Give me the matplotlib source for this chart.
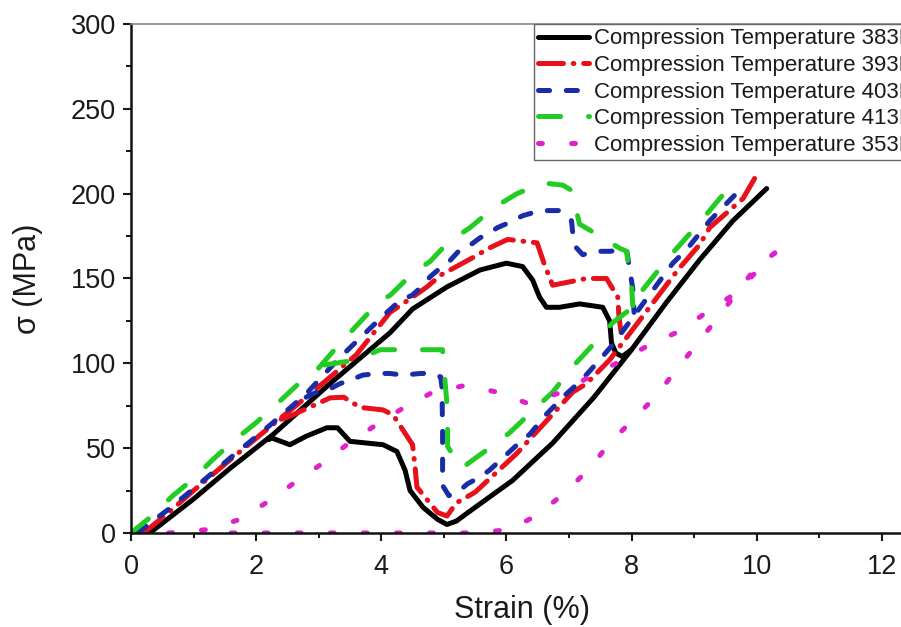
import matplotlib
matplotlib.use("Agg")
import matplotlib.pyplot as plt

# === Style ===
plt.rcParams['font.family'] = ['Liberation Sans', 'DejaVu Sans']
plt.rcParams['lines.scale_dashes'] = False
plt.rcParams['lines.dash_capstyle'] = 'round'
plt.rcParams['lines.solid_capstyle'] = 'round'

# === Data (strain %, stress MPa) ===
# each temperature has an upper path (a) and a lower path (b)
labels = ["Compression Temperature 383K", "Compression Temperature 393K",
          "Compression Temperature 403K", "Compression Temperature 413K",
          "Compression Temperature 353K"]

k383_x_a = [0.3, 1.0, 1.58, 2.27, 3.18, 4.14, 4.5, 5.05, 5.58, 6.0, 6.26, 6.42, 6.53, 6.64,
            6.85, 7.17, 7.54, 7.65, 7.68, 7.75, 7.85, 8.0]
k383_y_a = [0, 20, 38, 58, 88, 118, 132, 145, 155, 159, 157, 149, 139, 133,
            133, 135, 133, 125, 112, 106, 104, 108]
k383_x_b = [2.2, 2.25, 2.54, 2.8, 3.13, 3.3, 3.5, 4.03, 4.25, 4.38, 4.46, 4.67, 4.9, 5.05,
            5.2, 5.46, 6.1, 6.74, 7.4, 8.0, 8.56, 9.09, 9.62, 10.16]
k383_y_b = [55, 56, 52, 57, 62, 62, 54, 52, 48, 37, 25, 15, 8, 5,
            7, 14, 31, 53, 80, 108, 136, 161, 184, 203]

k393_x_a = [0.2, 0.6, 1.0, 1.58, 2.27, 2.9, 3.6, 4.14, 4.5, 4.73, 4.95, 5.45, 5.73, 6.02,
            6.49, 6.61, 6.74, 7.28, 7.6, 7.78, 7.8, 7.85]
k393_y_a = [0, 12, 25, 43, 64, 83, 105, 130, 139, 145, 152, 162, 168, 173,
            171, 158, 146, 150, 150, 139, 127, 114]
k393_x_b = [2.4, 2.49, 2.91, 3.18, 3.4, 3.66, 4.03, 4.19, 4.5, 4.54, 4.57, 4.9, 5.05, 5.2,
            5.5, 6.17, 7.06, 7.28, 7.65, 8.0, 8.74, 9.09, 9.25, 9.78, 10.0]
k393_y_b = [67, 68, 75, 79.6, 80, 74, 72.5, 69.5, 52, 39, 27, 12, 10, 17.7,
            24, 47, 83, 88, 102, 119, 155, 170, 180, 197, 211]

k403_x_a = [0.1, 0.6, 1.0, 1.58, 2.27, 2.8, 3.3, 4.03, 4.3, 4.49, 4.67, 4.78, 4.97, 5.06,
            5.26, 5.38, 5.58, 5.69, 5.86, 6.05, 6.26, 6.45, 6.66, 6.85, 7.04, 7.06, 7.12,
            7.22, 7.44, 7.65, 7.92, 8.02, 8.04]
k403_y_a = [0, 14, 26, 44, 65, 82, 102, 128, 137, 140, 146, 151, 157, 159,
            167, 168.5, 174, 176, 180, 183, 187, 189, 190, 190, 184, 177, 168,
            164, 166, 166, 167, 144, 130]
k403_x_b = [2.8, 2.97, 3.13, 3.34, 3.5, 3.7, 3.93, 4.14, 4.35, 4.62, 4.78, 4.95, 4.97, 4.98,
            4.98, 5.08, 5.22, 5.38, 5.58, 5.73, 6.26, 6.37, 6.64, 6.93, 7.2, 7.49, 7.7,
            8.02, 8.66, 8.88, 9.25, 9.62, 9.7]
k403_y_b = [80, 83, 84, 88, 90, 93, 94, 94, 93, 94, 94, 92, 86, 60,
            28, 22, 24, 29, 33, 37, 55, 58, 70, 81, 90, 102, 111,
            127, 159, 167, 184, 198, 201]

k413_x_a = [0.0, 0.3, 0.67, 1.0, 1.3, 1.63, 2.0, 2.33, 2.65, 2.97, 3.3, 3.5, 3.98, 4.14,
            4.5, 4.78, 5.06, 5.42, 5.81, 6.17, 6.5, 6.66, 6.9, 7.04, 7.17, 7.54, 7.8,
            7.92, 8.0, 8.02]
k413_y_a = [0, 9, 22, 32, 43, 54, 65, 76, 87, 96, 110, 118, 137, 140,
            153, 160, 171, 180, 192, 200, 205, 206, 205, 202, 182, 174, 168,
            166, 146, 134]
k413_x_b = [3.1, 3.61, 3.98, 4.5, 4.98, 5.02, 5.06, 5.06, 5.28, 5.5, 5.69, 6.05, 6.42, 6.74,
            7.06, 7.36, 7.7, 8.02, 8.13, 8.56, 9.09, 9.68]
k413_y_b = [99, 102, 108, 108, 108, 89, 72, 51, 38, 44, 49, 59, 72, 83,
            98, 110, 124, 133, 141, 161, 183, 209]

k353_x_a = [0.6, 1.23, 1.74, 2.17, 2.59, 3.02, 3.45, 3.87, 4.3, 4.8, 5.34, 5.85, 6.33, 6.85,
            7.33, 7.81, 8.29, 8.74, 9.2, 9.57, 9.89, 10.29]
k353_y_a = [0, 2, 8, 18, 29, 40, 52, 62.5, 72.5, 82.5, 87, 83, 76.5, 82.5,
            92, 101, 111, 118.5, 130, 139, 150, 165]
k353_x_b = [1.6, 3.0, 4.5, 5.5, 6.05, 6.5, 6.93, 7.33, 7.65, 8.02, 8.4, 8.69, 9.06, 9.38,
            9.65, 10.0, 10.29]
k353_y_b = [0, 0, 0, 0, 2, 10.6, 23.6, 38, 53, 66.6, 81, 95, 112, 127,
            140, 157, 165]

series = [
    (k383_x_a, k383_y_a, k383_x_b, k383_y_b, 'black', None),
    (k393_x_a, k393_y_a, k393_x_b, k393_y_b, '#e8101a', (18, 7, 0.5, 7)),
    (k403_x_a, k403_y_a, k403_x_b, k403_y_b, '#1a2ca8', (8, 12)),
    (k413_x_a, k413_y_a, k413_x_b, k413_y_b, '#22cc22', (16, 20)),
    (k353_x_a, k353_y_a, k353_x_b, k353_y_b, '#dd22cc', (2.8, 21)),
]

# === Figure ===
fig = plt.figure(figsize=(9.01, 6.27), dpi=100)
# the original is cropped on the right, so the axes run past the figure edge
ax = fig.add_axes([0.1454, 0.15, 0.868, 0.8118])

for (xa, ya, xb, yb, color, dash), label in zip(series, labels):
    kw = dict(color=color, lw=3.6)
    if dash is not None:
        kw['dashes'] = dash
    ax.plot(xa, ya, label=label, **kw)
    ax.plot(xb, yb, **kw)

ax.set_xlim(0, 12.5)
ax.set_ylim(0, 300)
ax.set_xticks([0, 2, 4, 6, 8, 10, 12])
ax.set_xticks([1, 3, 5, 7, 9, 11], minor=True)
ax.set_yticks([0, 50, 100, 150, 200, 250, 300])
ax.set_yticks([25, 75, 125, 175, 225, 275], minor=True)
ax.tick_params(which='major', direction='out', length=6, width=1.5, labelsize=19.5,
               colors='#1a1a1a', pad=5, top=False, right=False)
ax.tick_params(axis='x', which='major', pad=9)
ax.tick_params(which='minor', direction='out', length=3.5, width=1.3, top=False, right=False)

for side in ['left', 'bottom']:
    ax.spines[side].set_linewidth(1.8)
    ax.spines[side].set_color('#111111')
ax.spines['top'].set_color('#888888')
ax.spines['top'].set_linewidth(1.2)
ax.spines['right'].set_visible(False)

ax.set_xlabel("Strain (%)", fontsize=22, color='#1a1a1a', labelpad=11)
ax.set_ylabel("σ (MPa)", fontsize=22, color='#1a1a1a', labelpad=20)

leg = ax.legend(loc='upper left', bbox_to_anchor=(0.515, 1.0), borderaxespad=0,
                fontsize=16, handlelength=2.3, handletextpad=0.2, labelspacing=0.25,
                borderpad=0.2, fancybox=False, framealpha=1, edgecolor='#666666')
leg.get_frame().set_linewidth(1.0)
for t in leg.get_texts():
    t.set_color('#1a1a1a')

fig.savefig("out.png", dpi=100)
